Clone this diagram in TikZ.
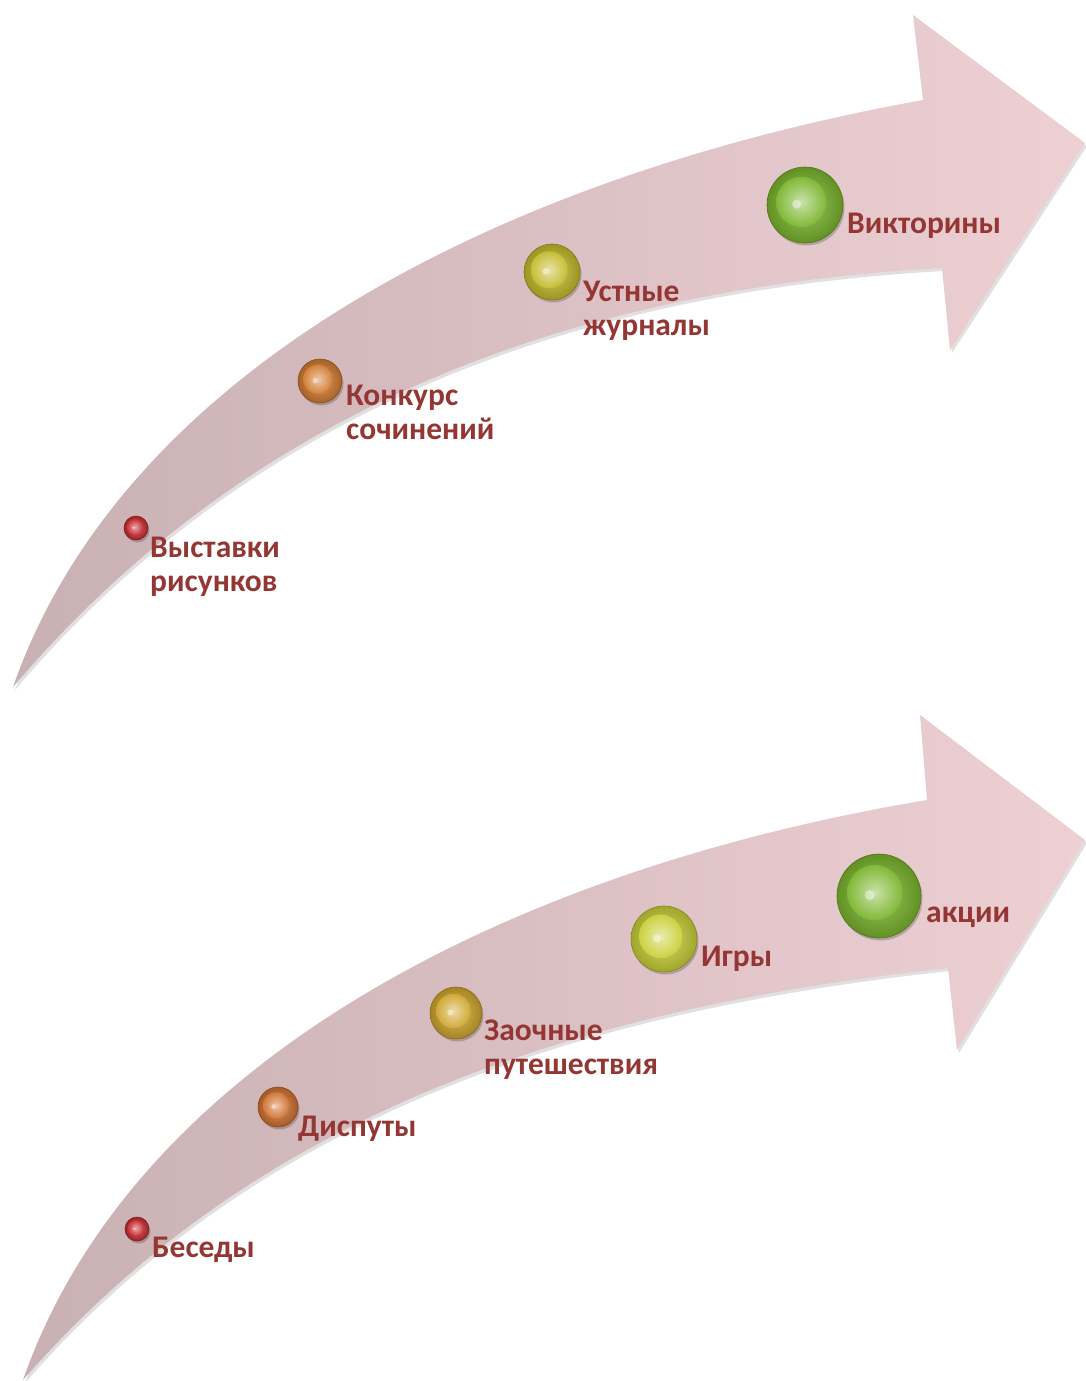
\documentclass[tikz,border=0pt]{standalone}
\usepackage{fontspec}
\setmainfont{Carlito}
\usetikzlibrary{shadings}
\definecolor{txt}{HTML}{943634}
\definecolor{arrA}{RGB}{200,176,179}
\definecolor{arrB}{RGB}{238,208,211}
\definecolor{cred}{HTML}{C62A2E}
\definecolor{corange}{HTML}{D27A30}
\definecolor{corange2}{HTML}{D0702E}
\definecolor{cgold}{HTML}{CFA52C}
\definecolor{cyellow}{HTML}{C4BA2A}
\definecolor{cyellow2}{HTML}{C9CF36}
\definecolor{cgreen}{HTML}{7AB52C}
\tikzset{
  lbl/.style={text=txt, font=\fontsize{31.5}{33.5}\selectfont\bfseries, align=left, inner sep=0pt, anchor=base west},
  arrowfill/.style={left color=arrA, right color=arrB},
  arrowshadow/.style={fill=black, opacity=0.12},
}
\newcommand\gball[5]{%
  \fill[black,opacity=0.2] (#2+1.5,#3+2.5) circle[radius=#4];
  \node[circle, minimum size={2*#4pt}, inner sep=0pt, draw=#5!65!black, line width=0.6pt,
        inner color=#5!75!white, outer color=#5!80!black] (#1) at (#2,#3) {};
  \shade[inner color=#5!40!white, outer color=#5!95!white] (#2-0.1*#4,#3-0.08*#4) circle[radius=0.66*#4];
  \fill[white,opacity=0.45] (#2-0.22*#4,#3-0.02*#4) circle[radius=0.12*#4];
}
\newcommand\arrowtop{(13,687) .. controls (120,380) and (480,180) .. (923,100)
  -- (913,15) -- (1085,143) -- (950,350) -- (942,268)
  .. controls (550,290) and (240,420) .. (13,687) -- cycle}
\newcommand\arrowbot{(23,1380) .. controls (130,1073) and (490,873) .. (927,800)
  -- (920,715) -- (1085,840) -- (957,1050) -- (948,968)
  .. controls (560,1010) and (250,1120) .. (23,1380) -- cycle}
\begin{document}
\begin{tikzpicture}[x=1pt,y=-1pt]
\useasboundingbox (0,0) rectangle (1085,1381);
\fill[white] (0,0) rectangle (1085,1381);
% top arrow
\fill[arrowshadow, shift={(2,3)}] \arrowtop;
\shade[arrowfill] \arrowtop;
% bottom arrow
\fill[arrowshadow, shift={(2,3)}] \arrowbot;
\shade[arrowfill] \arrowbot;
% top balls
\gball{t1}{136}{528}{12}{cred}
\gball{t2}{320}{381}{22}{corange}
\gball{t3}{552}{272}{28}{cyellow}
\gball{t4}{805}{205}{38}{cgreen}
% bottom balls
\gball{u1}{137}{1229}{12}{cred}
\gball{u2}{278}{1107}{20}{corange2}
\gball{u3}{456}{1013}{26}{cgold}
\gball{u4}{664}{939}{33}{cyellow2}
\gball{u5}{879}{896}{42}{cgreen}
% labels (y = baseline of last line)
\node[lbl] (lt1) at (150,591) {Выставки\\рисунков};
\node[lbl] (lt2) at (346,439) {Конкурс\\сочинений};
\node[lbl] (lt3) at (583,335) {Устные\\журналы};
\node[lbl] (lt4) at (847,233) {Викторины};
\node[lbl] (lu1) at (152,1257) {Беседы};
\node[lbl] (lu2) at (298,1136) {Диспуты};
\node[lbl] (lu3) at (484,1074) {Заочные\\путешествия};
\node[lbl] (lu4) at (701,966) {Игры};
\node[lbl] (lu5) at (926,922) {акции};
\end{tikzpicture}
\end{document}
